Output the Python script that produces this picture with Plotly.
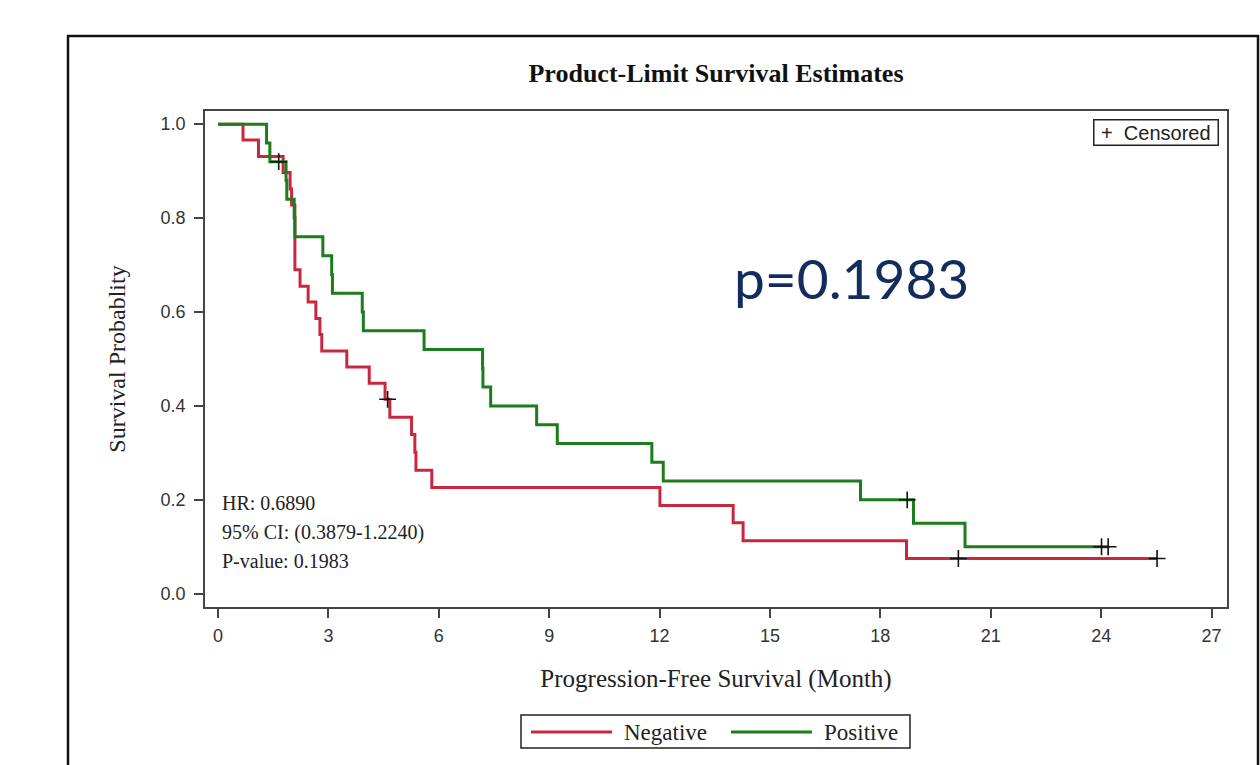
import plotly.graph_objects as go
import numpy as np

# ---------------- data ----------------
neg_times = [0.68, 1.10, 1.77, 1.96, 2.00, 2.09, 2.23, 2.45, 2.66, 2.77, 2.82, 3.50, 4.11,
             4.54, 4.67, 5.26, 5.35, 5.38, 5.81, 12.01, 14.00, 14.27, 18.71]
neg_surv = [0.966, 0.931, 0.897, 0.862, 0.828, 0.690, 0.655, 0.621, 0.586, 0.552, 0.517,
            0.483, 0.448, 0.414, 0.376, 0.339, 0.301, 0.263, 0.226, 0.188, 0.151, 0.113, 0.075]
neg_censor = [4.61, 20.12, 25.52]

pos_times = [1.32, 1.41, 1.85, 1.87, 2.07, 2.09, 2.85, 3.09, 3.11, 3.92, 3.95, 5.60, 7.19,
             7.20, 7.41, 8.66, 9.22, 11.79, 12.10, 17.46, 18.90, 20.30]
pos_surv = [0.96, 0.92, 0.88, 0.84, 0.80, 0.76, 0.72, 0.68, 0.64, 0.60, 0.56, 0.52, 0.48,
            0.44, 0.40, 0.36, 0.32, 0.28, 0.24, 0.20, 0.15, 0.10]
pos_censor = [1.65, 18.73, 24.01, 24.19]

group_names = ["Negative", "Positive"]
x_ticks = [0, 3, 6, 9, 12, 15, 18, 21, 24, 27]
y_ticks = [0.0, 0.2, 0.4, 0.6, 0.8, 1.0]
stats_lines = ["HR: 0.6890", "95% CI: (0.3879-1.2240)", "P-value: 0.1983"]
p_text = "p=0.1983"
censor_label = "&nbsp;+&nbsp;&nbsp;Censored&nbsp;"

colors = {"Negative": "#C8283F", "Positive": "#1B7D1B"}

SERIF = "Liberation Serif, Times New Roman, serif"
SANS = "Liberation Sans, Arial, sans-serif"


def step_xy(times, surv, censor):
    end = max(max(censor), max(times))
    x = [0.0] + list(times) + [end]
    y = [1.0] + list(surv) + [surv[-1]]
    return x, y


def surv_at(t, times, surv):
    val = 1.0
    for ti, si in zip(times, surv):
        if ti <= t:
            val = si
    return val


fig = go.Figure()

groups = [
    ("Negative", neg_times, neg_surv, neg_censor),
    ("Positive", pos_times, pos_surv, pos_censor),
]

for name, t, s, c in groups:
    x, y = step_xy(t, s, c)
    fig.add_trace(go.Scatter(x=x, y=y, mode="lines", line=dict(color=colors[name], width=3, shape="hv"),
                             name=name, showlegend=False, hoverinfo="skip"))

for name, t, s, c in groups:
    cy = [surv_at(ci, t, s) for ci in c]
    fig.add_trace(go.Scatter(x=c, y=cy, mode="markers",
                             marker=dict(symbol="cross-thin", size=12, line=dict(color="#111111", width=1.6)),
                             name="Censored", showlegend=False, hoverinfo="skip"))

fig.update_layout(
    width=1260, height=765,
    margin=dict(l=205, r=33, t=111, b=158),
    paper_bgcolor="white", plot_bgcolor="white",
    showlegend=False,
    title=dict(text="<b>Product-Limit Survival Estimates</b>", x=0.5, xref="paper", xanchor="center",
               y=1 - 73 / 765, yanchor="middle", font=dict(family=SERIF, size=26, color="#111111")),
)

fig.update_xaxes(range=[-0.353, 27.42], tickvals=x_ticks, ticktext=[str(v) for v in x_ticks],
                 ticks="outside", ticklen=9, tickwidth=1.5, tickcolor="#444444",
                 showline=True, linecolor="#444444", linewidth=1.5, mirror=True,
                 showgrid=False, zeroline=False, ticklabelstandoff=3,
                 tickfont=dict(family=SANS, size=18, color="#333333"),
                 title=dict(text="Progression-Free Survival (Month)", standoff=24,
                            font=dict(family=SERIF, size=25, color="#222222")))
fig.update_yaxes(range=[-0.0283, 1.028], tickvals=y_ticks, ticktext=["%.1f" % v for v in y_ticks],
                 ticks="outside", ticklen=9, tickwidth=1.5, tickcolor="#444444",
                 showline=True, linecolor="#444444", linewidth=1.5, mirror=True,
                 showgrid=False, zeroline=False, ticklabelstandoff=5,
                 tickfont=dict(family=SANS, size=18, color="#333333"),
                 title=dict(text="Survival Probablity", standoff=28,
                            font=dict(family=SERIF, size=24, color="#222222")))


def px_x(p):
    return (p - 205) / 1022


def px_y(p):
    return (607 - p) / 496


# HR / CI / P-value text
for i, line in enumerate(stats_lines):
    fig.add_annotation(text=line, xref="paper", yref="paper",
                       x=px_x(220), y=px_y(503 + 29 * i),
                       xanchor="left", yanchor="middle", showarrow=False,
                       font=dict(family=SERIF, size=20, color="#222222"))

# censored key (top right)
fig.add_annotation(text=censor_label, xref="paper", yref="paper",
                   x=px_x(1219), y=px_y(119), xanchor="right", yanchor="top", showarrow=False,
                   bordercolor="#222222", borderwidth=1.5, borderpad=1, bgcolor="white",
                   font=dict(family=SANS, size=20, color="#222222"))

# big p-value
fig.add_annotation(text=p_text, xref="paper", yref="paper",
                   x=px_x(851), y=px_y(278), xanchor="center", yanchor="middle",
                   showarrow=False, font=dict(family="Lato, Noto Sans, sans-serif", size=55, color="#122C5E"))

# outer border
fig.add_shape(type="rect", xref="paper", yref="paper",
              x0=px_x(68), x1=px_x(1258), y0=px_y(800), y1=px_y(36),
              line=dict(color="#111111", width=2.5), fillcolor="rgba(0,0,0,0)", layer="above")

# bottom group legend
fig.add_shape(type="rect", xref="paper", yref="paper",
              x0=px_x(521), x1=px_x(910), y0=px_y(748), y1=px_y(715),
              line=dict(color="#222222", width=1.5), fillcolor="white")
leg_pos = [(531, 612, 622), (731, 812, 822)]
for name, (lx0, lx1, tx) in zip(group_names, leg_pos):
    fig.add_shape(type="line", xref="paper", yref="paper",
                  x0=px_x(lx0), x1=px_x(lx1), y0=px_y(732), y1=px_y(732),
                  line=dict(color=colors[name], width=3))
    fig.add_annotation(text=name, xref="paper", yref="paper", x=px_x(tx), y=px_y(732),
                       xanchor="left", yanchor="middle", showarrow=False,
                       font=dict(family=SERIF, size=23, color="#222222"))

fig.write_html("out.html")
